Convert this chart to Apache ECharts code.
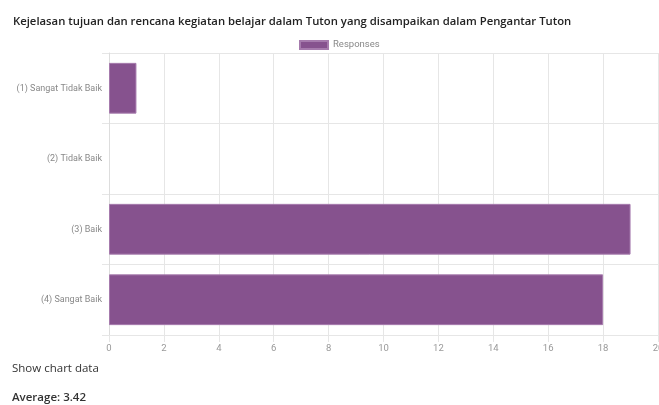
<!DOCTYPE html>
<html><head><meta charset="utf-8">
<script src="https://cdn.jsdelivr.net/npm/echarts@6/dist/echarts.min.js"></script>
<style>html,body{margin:0;padding:0;background:#fff;}#c{width:659px;height:405px;}</style>
</head><body><div id="c"></div>
<script>
const categories = ["(1) Sangat Tidak Baik", "(2) Tidak Baik", "(3) Baik", "(4) Sangat Baik"];
const responses = [1, 0, 19, 18];
const seriesName = "Responses";
const titleText = "Kejelasan tujuan dan rencana kegiatan belajar dalam Tuton yang disampaikan dalam Pengantar Tuton";
const footer1 = "Show chart data";
const footer2 = "Average: 3.42";

const chart = echarts.init(document.getElementById('c'), null, {renderer: 'canvas'});
const grid = '#e6e6e6';
chart.setOption({
  animation: false,
  title: {text: titleText, left: 8, top: 11,
    textStyle: {fontFamily: 'Open Sans', fontSize: 11.3, fontWeight: 600, color: '#222'}},
  legend: {data: [seriesName], top: 35, left: 294, itemWidth: 28, itemHeight: 8, itemGap: 4,
    textStyle: {fontFamily: 'Roboto', fontSize: 9.5, color: '#888'}, icon: 'rect'},
  grid: {left: 109, right: 1, top: 53, bottom: 70, containLabel: false, outerBoundsMode: 'none'},
  xAxis: {type: 'value', min: 0, max: 20, interval: 2,
    axisLine: {show: false},
    axisTick: {show: true, length: 7, lineStyle: {color: grid}},
    splitLine: {show: true, lineStyle: {color: grid}},
    axisLabel: {fontFamily: 'Roboto', fontSize: 9.5, color: '#999', margin: 9}},
  yAxis: {type: 'category', data: categories, inverse: true,
    axisLine: {show: true, lineStyle: {color: '#dddddd'}},
    axisTick: {show: true, length: 7, lineStyle: {color: grid}},
    splitLine: {show: true, lineStyle: {color: grid}},
    axisLabel: {fontFamily: 'Roboto', fontSize: 9, color: '#888', margin: 7}},
  series: [{name: seriesName, type: 'bar', barWidth: '72%',
    data: responses.map(v => v === 0 ? {value: v, itemStyle: {borderWidth: 0}} : v),
    itemStyle: {color: '#86528e', borderColor: '#a67bad', borderWidth: 1}}],
  graphic: [
    {type: 'text', left: 12, top: 363, style: {text: footer1, fontFamily: 'Open Sans', fontSize: 11.5, fill: '#333'}},
    {type: 'text', left: 12, top: 392, style: {text: footer2, fontFamily: 'Open Sans', fontSize: 11.5, fontWeight: 600, fill: '#333'}}
  ]
});
</script></body></html>
